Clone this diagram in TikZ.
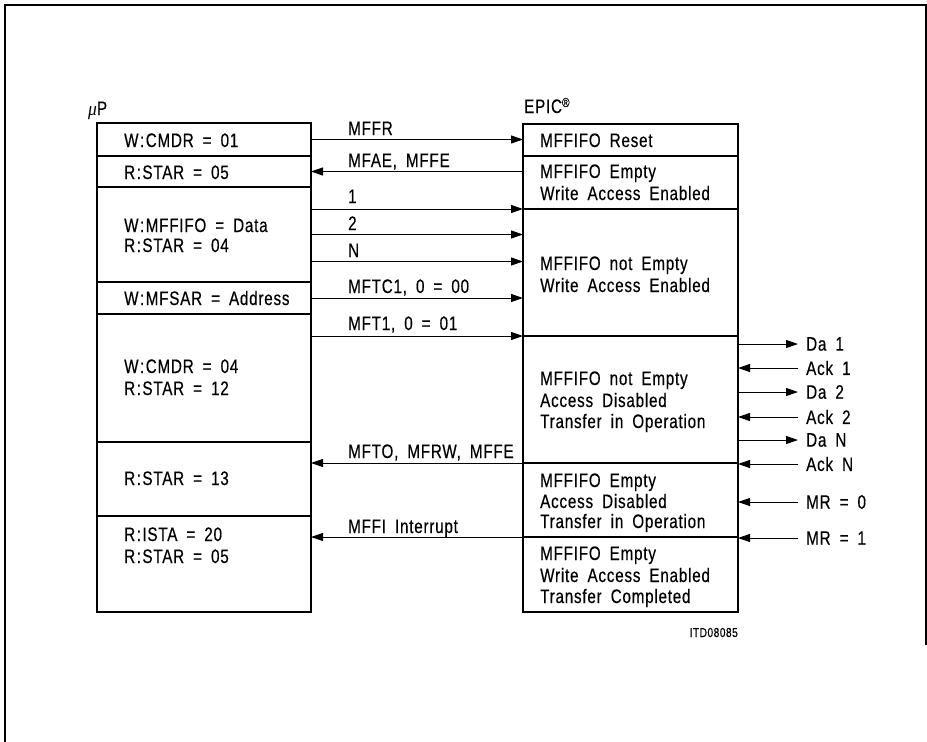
\documentclass[tikz,border=0pt]{standalone}
\usepackage{fontspec}
\setmainfont[FakeStretch=0.78,LetterSpace=4,WordSpace=1.8,FakeBold=0.4]{Liberation Sans}
\newfontfamily\greekit[FakeStretch=0.9]{Liberation Serif}
\usetikzlibrary{arrows.meta}
\newcommand{\cln}{\kern1.5pt:\kern1.5pt}
\tikzset{
  lrow/.style={draw,line width=2.2pt,anchor=north west,inner sep=0pt,outer sep=0pt,minimum width=214pt},
  rrow/.style={draw,line width=2.2pt,anchor=north west,inner sep=0pt,outer sep=0pt,minimum width=215pt},
  txt/.style={anchor=base west,inner sep=0pt,font=\fontsize{19.5}{20}\selectfont},
  side/.style={anchor=west,inner sep=0pt,font=\fontsize{19.5}{20}\selectfont},
  arr/.style={-{Triangle[length=12pt,width=8pt]},line width=1pt},
}
\begin{document}
\begin{tikzpicture}[x=1pt,y=-1pt]
\useasboundingbox (0,0) rectangle (927,742);
% frame
\draw[line width=1.4pt] (5,742) -- (5,5) -- (926,5) -- (926,645);
% titles
\node[txt] (tup) at (88,115) {{\greekit\itshape μ}P};
\node[txt] (tepic) at (524,113) {EPIC\raisebox{6pt}{\fontsize{13}{13}\selectfont ®}};
% left column
\node[lrow,minimum height=33pt] (L1) at (97,123) {};
\node[lrow,minimum height=31pt] (L2) at (97,156) {};
\node[lrow,minimum height=95pt] (L3) at (97,187) {};
\node[lrow,minimum height=32pt] (L4) at (97,282) {};
\node[lrow,minimum height=128pt] (L5) at (97,314) {};
\node[lrow,minimum height=74pt] (L6) at (97,442) {};
\node[lrow,minimum height=96pt] (L7) at (97,516) {};
% right column
\node[rrow,minimum height=32pt] (R1) at (523,124) {};
\node[rrow,minimum height=53pt] (R2) at (523,156) {};
\node[rrow,minimum height=127pt] (R3) at (523,209) {};
\node[rrow,minimum height=127pt] (R4) at (523,336) {};
\node[rrow,minimum height=74pt] (R5) at (523,463) {};
\node[rrow,minimum height=75pt] (R6) at (523,537) {};
% left texts
\node[txt] (l1a) at (124,147) {W\cln CMDR = 01};
\node[txt] (l2a) at (124,179) {R\cln STAR = 05};
\node[txt] (l3a) at (124,232) {W\cln MFFIFO = Data};
\node[txt] (l3b) at (124,252) {R\cln STAR = 04};
\node[txt] (l4a) at (124,305) {W\cln MFSAR = Address};
\node[txt] (l5a) at (124,373) {W\cln CMDR = 04};
\node[txt] (l5b) at (124,395) {R\cln STAR = 12};
\node[txt] (l6a) at (124,485) {R\cln STAR = 13};
\node[txt] (l7a) at (124,541) {R\cln ISTA = 20};
\node[txt] (l7b) at (124,563) {R\cln STAR = 05};
% right texts
\node[txt] (r1a) at (540,147) {MFFIFO Reset};
\node[txt] (r2a) at (540,178) {MFFIFO Empty};
\node[txt] (r2b) at (540,200) {Write Access Enabled};
\node[txt] (r3a) at (540,270) {MFFIFO not Empty};
\node[txt] (r3b) at (540,292) {Write Access Enabled};
\node[txt] (r4a) at (540,385) {MFFIFO not Empty};
\node[txt] (r4b) at (540,407) {Access Disabled};
\node[txt] (r4c) at (540,428) {Transfer in Operation};
\node[txt] (r5a) at (540,487) {MFFIFO Empty};
\node[txt] (r5b) at (540,508) {Access Disabled};
\node[txt] (r5c) at (540,528) {Transfer in Operation};
\node[txt] (r6a) at (540,560) {MFFIFO Empty};
\node[txt] (r6b) at (540,582) {Write Access Enabled};
\node[txt] (r6c) at (540,603) {Transfer Completed};
% middle arrows
\draw[arr] (L1.east) -- (L1.east -| R1.west);
\draw[arr] (L2.east -| R2.west) -- (L2.east);
\draw[arr] (R3.north west -| L3.east) -- (R3.north west);
\draw[arr] (L3.east) -- (L3.east -| R3.west);
\draw[arr] ([yshift=-27pt]L3.east) -- ([yshift=-27pt]L3.east -| R3.west);
\draw[arr] (L4.east) -- (L4.east -| R3.west);
\draw[arr] (R4.north west -| L5.east) -- (R4.north west);
\draw[arr] (R5.north west) -- (R5.north west -| L6.east);
\draw[arr] (R6.north west) -- (R6.north west -| L7.east);
% middle labels
\node[txt] (m1) at (348,135) {MFFR};
\node[txt] (m2) at (348,167) {MFAE, MFFE};
\node[txt] (m3) at (348,203) {1};
\node[txt] (m4) at (348,230) {2};
\node[txt] (m5) at (348,257) {N};
\node[txt] (m6) at (348,293) {MFTC1, 0 = 00};
\node[txt] (m7) at (348,330) {MFT1, 0 = 01};
\node[txt] (m8) at (348,458) {MFTO, MFRW, MFFE};
\node[txt] (m9) at (348,533) {MFFI Interrupt};
% right side arrows
\coordinate (e1) at (798,344);
\coordinate (e2) at (798,368);
\coordinate (e3) at (798,392);
\coordinate (e4) at (798,417);
\coordinate (e5) at (798,440);
\coordinate (e6) at (798,464);
\coordinate (e7) at (798,502);
\coordinate (e8) at (798,538);
\draw[arr] (e1 -| R4.east) -- (e1);
\draw[arr] (e2) -- (e2 -| R4.east);
\draw[arr] (e3 -| R4.east) -- (e3);
\draw[arr] (e4) -- (e4 -| R4.east);
\draw[arr] (e5 -| R4.east) -- (e5);
\draw[arr] (e6) -- (e6 -| R4.east);
\draw[arr] (e7) -- (e7 -| R5.east);
\draw[arr] (e8) -- (e8 -| R6.east);
\node[side] (s1) at ([xshift=8pt]e1) {Da 1};
\node[side] (s2) at ([xshift=8pt]e2) {Ack 1};
\node[side] (s3) at ([xshift=8pt]e3) {Da 2};
\node[side] (s4) at ([xshift=8pt]e4) {Ack 2};
\node[side] (s5) at ([xshift=8pt]e5) {Da N};
\node[side] (s6) at ([xshift=8pt]e6) {Ack N};
\node[side] (s7) at ([xshift=8pt]e7) {MR = 0};
\node[side] (s8) at ([xshift=8pt]e8) {MR = 1};
% figure id
\node[anchor=base east,inner sep=0pt,font=\fontsize{13}{13}\selectfont] (fid) at (738,637) {ITD08085};
\end{tikzpicture}
\end{document}
